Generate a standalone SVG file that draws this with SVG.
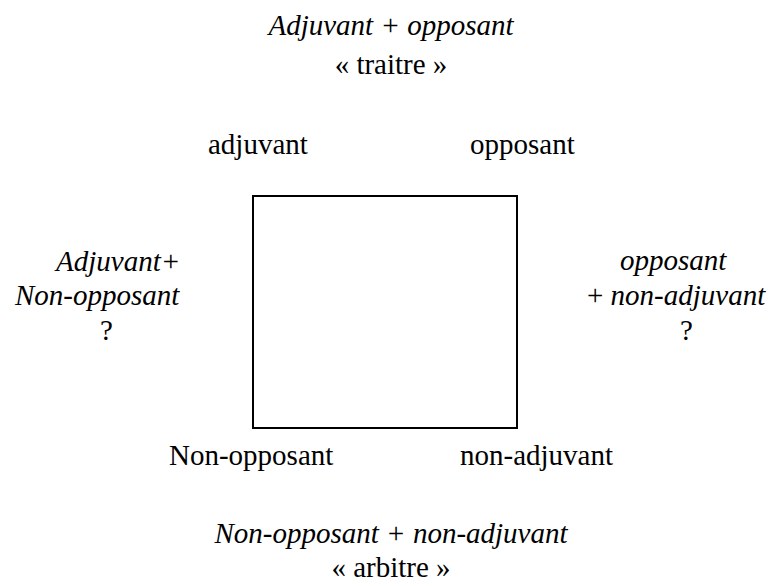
<svg xmlns="http://www.w3.org/2000/svg" width="773" height="586" viewBox="0 0 773 586">
<style>
text{font-family:"Liberation Serif","Times New Roman",serif;font-size:29px;fill:#000}
.i{font-style:italic}
</style>
<rect width="773" height="586" fill="#fff"/>
<g id="square">
<rect x="253" y="196" width="264" height="232" fill="none" stroke="#000" stroke-width="2"/>
</g>
<g id="top">
<text class="i" x="391" y="35" text-anchor="middle">Adjuvant + opposant</text>
<text x="391" y="74" text-anchor="middle">« traitre »</text>
</g>
<g id="adjuvant"><text x="208" y="154">adjuvant</text></g>
<g id="opposant"><text x="470" y="154">opposant</text></g>
<g id="left">
<text class="i" x="56" y="271">Adjuvant+</text>
<text class="i" x="15" y="305">Non-opposant</text>
<text x="100" y="340">?</text>
</g>
<g id="right">
<text class="i" x="620" y="270">opposant</text>
<text x="587" y="305">+ <tspan class="i">non-adjuvant</tspan></text>
<text x="680" y="340">?</text>
</g>
<g id="nonopposant"><text x="169" y="465">Non-opposant</text></g>
<g id="nonadjuvant"><text x="460" y="465">non-adjuvant</text></g>
<g id="bottom">
<text class="i" x="391" y="543" text-anchor="middle">Non-opposant + non-adjuvant</text>
<text x="391" y="577" text-anchor="middle">« arbitre »</text>
</g>
<g id="connectors"></g>
</svg>
